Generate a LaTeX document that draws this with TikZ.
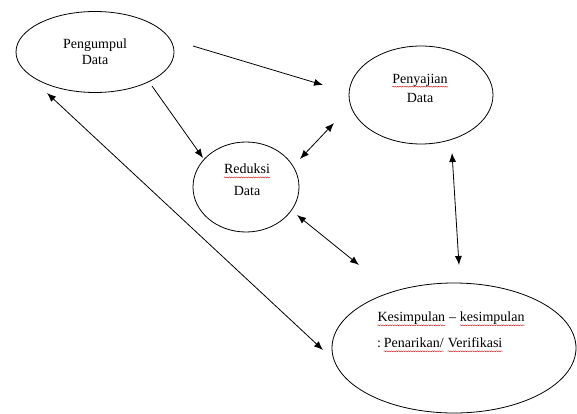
\documentclass[tikz,border=0pt]{standalone}
\usepackage{fontspec}
\setmainfont{Liberation Serif}
\usetikzlibrary{shapes.geometric,arrows.meta,decorations.pathmorphing}
\newcommand\spellwave[1]{\tikz[baseline=(sw.base)]{\node[inner sep=0pt,anchor=base] (sw) at (0,0) {#1};%
  \draw[red!80!black, line width=0.35pt, decorate, decoration={snake, amplitude=0.55pt, segment length=2.4pt}]%
    ([yshift=-3.6pt]sw.base west) -- ([yshift=-3.6pt]sw.base east);}}
\begin{document}
\begin{tikzpicture}[x=1pt,y=-1pt,
  bubble/.style={draw, ellipse, line width=0.8pt, inner sep=0pt},
  lbl/.style={inner sep=0pt, align=center, text=black},
  conn/.style={line width=0.8pt, -{Latex[length=9pt,width=7pt]}},
  bconn/.style={line width=0.8pt, {Latex[length=9pt,width=7pt]}-{Latex[length=9pt,width=7pt]}}]
\useasboundingbox[fill=white] (0,0) rectangle (577,414);

% ellipses
\node[bubble, minimum width=158pt, minimum height=81pt] (peng) at (95,52) {};
\node[bubble, minimum width=144pt, minimum height=98pt] (peny) at (421,95) {};
\node[bubble, minimum width=106pt, minimum height=90pt] (redu) at (246,187) {};
\node[bubble, minimum width=244pt, minimum height=130pt] (kesi) at (454,348) {};

% labels
\node[lbl, font=\fontsize{14}{16}\selectfont] (tpeng) at (95,52) {Pengumpul\\Data};
\node[lbl, font=\fontsize{14}{19}\selectfont] (tpeny) at (420,88) {\spellwave{Penyajian}\\Data};
\node[lbl, font=\fontsize{14}{22}\selectfont] (tredu) at (247,180) {\spellwave{Reduksi}\\Data};
\node[lbl, align=left, anchor=west, font=\fontsize{14}{26}\selectfont] (tkesi) at (377,332)
  {\spellwave{Kesimpulan} -- \spellwave{kesimpulan}\\:\,\spellwave{Penarikan/} \spellwave{Verifikasi}};

% connector end points
\coordinate (a1s) at (193,46);  \coordinate (a1e) at (323,85);
\coordinate (a2s) at (152,86);  \coordinate (a2e) at (203,158);
\coordinate (a3s) at (300,159); \coordinate (a3e) at (334,123);
\coordinate (a4s) at (297,215); \coordinate (a4e) at (359,265);
\coordinate (a5s) at (452,153); \coordinate (a5e) at (459,265);
\coordinate (a6s) at (47,93);   \coordinate (a6e) at (323,350);

\draw[conn] (a1s) -- (a1e);
\draw[conn] (a2s) -- (a2e);
\draw[bconn] (a3s) -- (a3e);
\draw[bconn] (a4s) -- (a4e);
\draw[bconn] (a5s) -- (a5e);
\draw[bconn] (a6s) -- (a6e);
\end{tikzpicture}
\end{document}
